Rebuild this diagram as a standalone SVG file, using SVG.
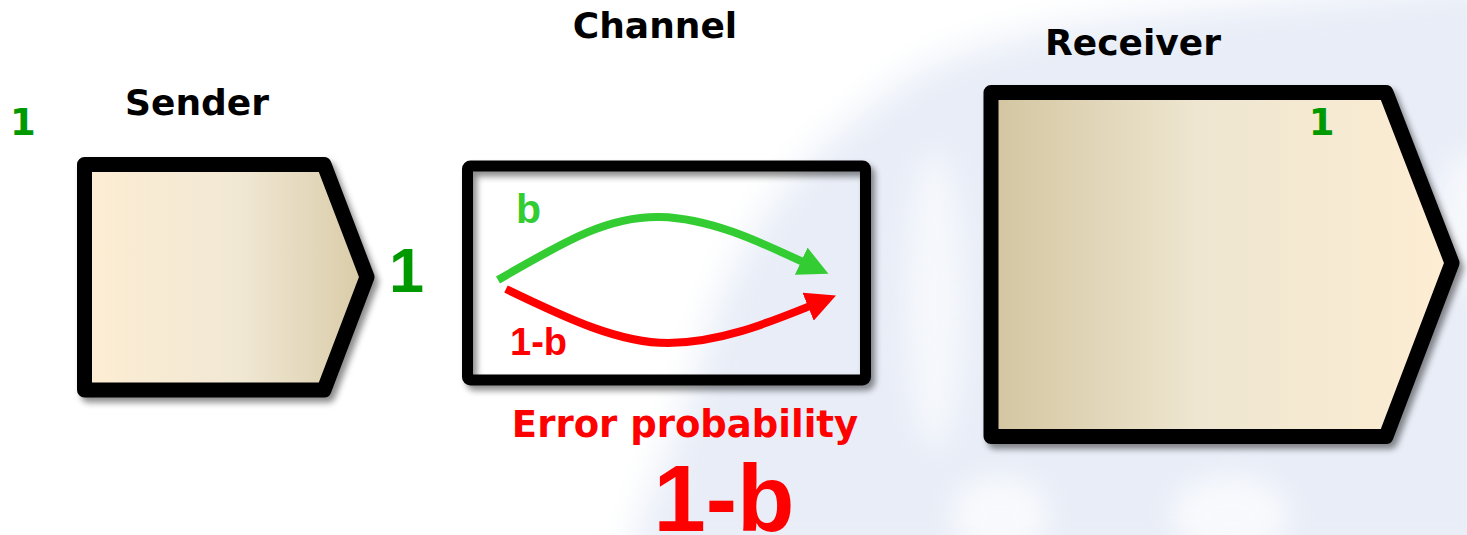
<svg xmlns="http://www.w3.org/2000/svg" width="1467" height="535" viewBox="0 0 1467 535">
<style>
.title{font-family:"DejaVu Sans",Verdana,sans-serif;font-weight:bold;font-size:36px;fill:#000}
.small1{font-family:"DejaVu Sans",Verdana,sans-serif;font-weight:bold;font-size:37px;fill:#009900}
.arial{font-family:"Liberation Sans",Arial,sans-serif;font-weight:bold}
.box{stroke:#000;stroke-linejoin:round;filter:url(#shadow)}
.conn{fill:none;stroke-width:8}
</style>
<defs>
<linearGradient id="gSend" x1="0" y1="0" x2="1" y2="0">
<stop offset="0" stop-color="#fdedd3"/>
<stop offset="0.55" stop-color="#f1e8d4"/>
<stop offset="1" stop-color="#d8cba7"/>
</linearGradient>
<linearGradient id="gRecv" x1="0" y1="0" x2="1" y2="0">
<stop offset="0" stop-color="#d3c5a0"/>
<stop offset="0.45" stop-color="#eee6d0"/>
<stop offset="1" stop-color="#fdedd3"/>
</linearGradient>
<filter id="shadow" x="-10%" y="-10%" width="125%" height="125%">
<feDropShadow dx="4" dy="5" stdDeviation="3" flood-color="#000" flood-opacity="0.45"/>
</filter>
<filter id="blur" x="-20%" y="-20%" width="140%" height="140%">
<feGaussianBlur stdDeviation="18"/>
</filter>
<filter id="blur2" x="-50%" y="-50%" width="200%" height="200%">
<feGaussianBlur stdDeviation="14"/>
</filter>
<marker id="headG" markerUnits="userSpaceOnUse" viewBox="0 0 30 30" refX="2" refY="15" markerWidth="30" markerHeight="30" orient="auto">
<path d="M0,0 L30,15 L0,30 z" fill="#33cc33"/>
</marker>
<marker id="headR" markerUnits="userSpaceOnUse" viewBox="0 0 30 30" refX="2" refY="15" markerWidth="30" markerHeight="30" orient="auto">
<path d="M0,0 L30,15 L0,30 z" fill="#ff0000"/>
</marker>
</defs>

<!-- background watermark -->
<rect x="0" y="0" width="1467" height="535" fill="#ffffff"/>
<g id="background">
<path d="M1500,-20 L1350,-5 C1150,15 960,25 880,100 C790,165 725,250 695,380 C670,450 645,500 630,560 L1500,560 Z" fill="#e8edf7" filter="url(#blur)"/>
<ellipse cx="935" cy="300" rx="30" ry="150" fill="#ffffff" opacity="0.6" filter="url(#blur2)"/>
<ellipse cx="1000" cy="515" rx="50" ry="40" fill="#ffffff" opacity="0.7" filter="url(#blur2)"/>
<ellipse cx="1230" cy="515" rx="60" ry="40" fill="#ffffff" opacity="0.7" filter="url(#blur2)"/>
<ellipse cx="1467" cy="220" rx="30" ry="70" fill="#ffffff" opacity="0.6" filter="url(#blur2)"/>
</g>

<g id="sender">
<polygon class="box" points="84.5,164.5 324,164.5 367,277 324,390 84.5,390" fill="url(#gSend)" stroke-width="15"/>
<text class="title" x="197" y="115" text-anchor="middle">Sender</text>
<text class="small1" x="10" y="135">1</text>
<text class="arial" x="389" y="292" font-size="63" fill="#009900">1</text>
</g>

<g id="channel">
<rect class="box" x="467.5" y="166" width="398" height="214" rx="3" fill="none" stroke-width="11"/>
<text class="title" x="655" y="38" text-anchor="middle">Channel</text>
<text class="arial" x="516" y="223" font-size="41" fill="#33cc33">b</text>
<text class="arial" x="510" y="355" font-size="38" fill="#ff0000">1-b</text>
<text x="685" y="437" text-anchor="middle" font-family="DejaVu Sans, Verdana, sans-serif" font-weight="bold" font-size="37" fill="#ff0000">Error probability</text>
<text class="arial" x="724" y="531" text-anchor="middle" font-size="94" fill="#ff0000">1-b</text>
</g>

<g id="receiver">
<polygon class="box" points="991,92.5 1386,92.5 1452,263 1386,436.5 991,436.5" fill="url(#gRecv)" stroke-width="15"/>
<text class="title" x="1133" y="55" text-anchor="middle">Receiver</text>
<text class="small1" x="1321.5" y="135" text-anchor="middle">1</text>
</g>

<g id="connectors">
<path class="conn" d="M498,280 C570,238 610,216 660,217 C710,218 760,242 803,262" stroke="#33cc33" marker-end="url(#headG)"/>
<path class="conn" d="M506,289 C570,320 620,343 668,343 C720,343 770,322 810,306" stroke="#ff0000" marker-end="url(#headR)"/>
</g>
</svg>
